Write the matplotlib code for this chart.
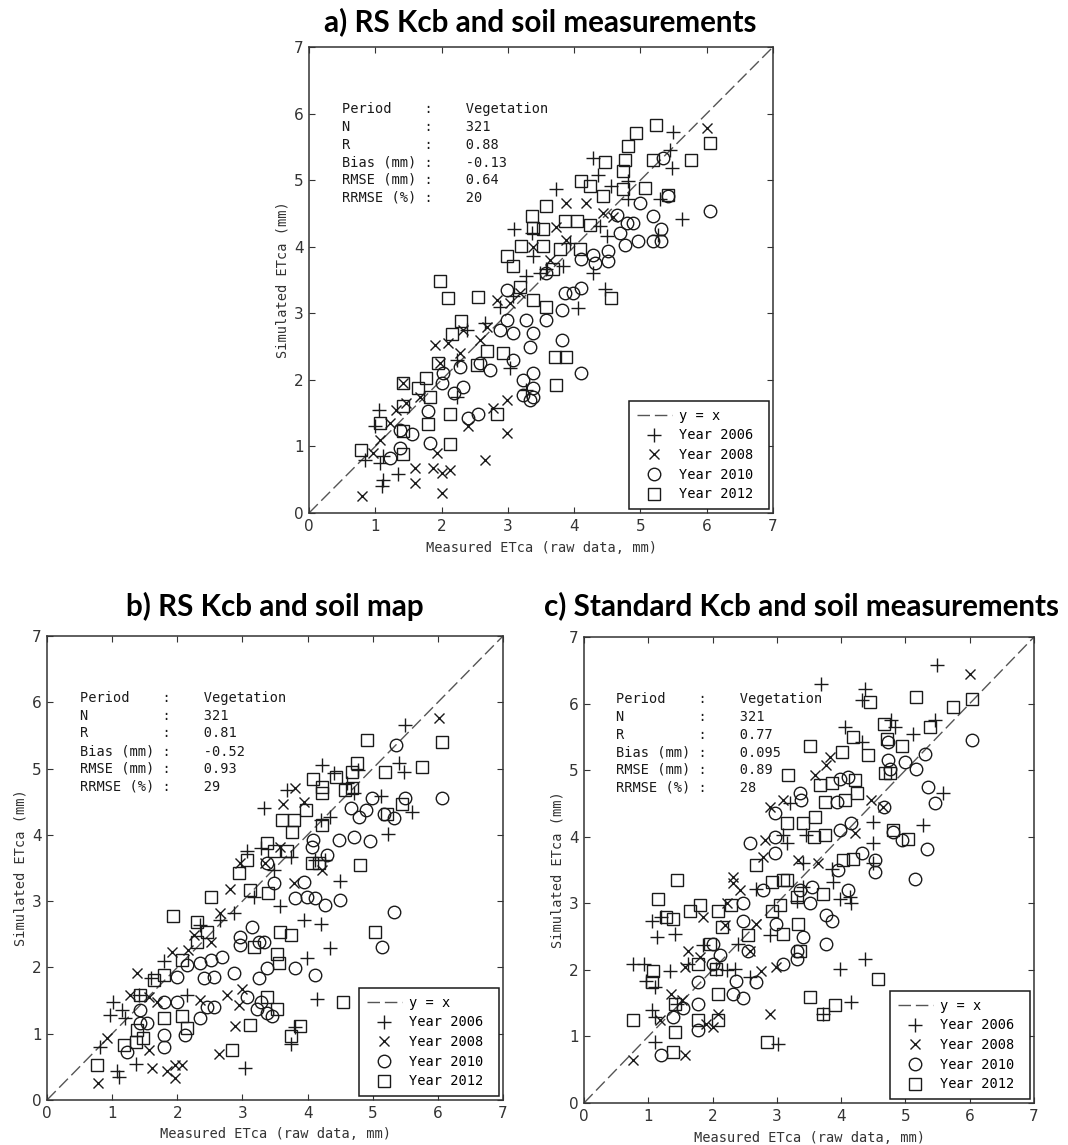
import numpy as np
import matplotlib
matplotlib.use("Agg")
import matplotlib.pyplot as plt

# ---- data (measured, simulated ETca in mm) ----
years = ["Year 2006", "Year 2008", "Year 2010", "Year 2012"]
markers = ["+", "x", "o", "s"]
msizes = [10, 7, 9, 8]

titles = ["a) RS Kcb and soil measurements",
          "b) RS Kcb and soil map",
          "c) Standard Kcb and soil measurements"]

stat_names = ["Period", "N", "R", "Bias (mm)", "RMSE (mm)", "RRMSE (%)"]
stats_a = ["Vegetation", "321", "0.88", "-0.13", "0.64", "20"]
stats_b = ["Vegetation", "321", "0.81", "-0.52", "0.93", "29"]
stats_c = ["Vegetation", "321", "0.77", "0.095", "0.89", "28"]

# panel a
a06_x = [5.49, 5.44, 5.47, 5.62, 5.29, 5.27, 4.29, 4.36, 4.56, 4.81, 4.81, 3.73, 3.10, 3.36, 4.46, 4.29, 4.06,
         4.39, 4.49, 3.83, 3.93, 3.38, 3.48, 3.58, 3.28, 3.08, 3.03, 3.28, 2.88, 2.65, 2.38, 2.23, 2.23, 1.05,
         1.00, 1.07, 1.12, 1.35, 0.84, 1.10, 1.12]
a06_y = [5.73, 5.46, 5.18, 4.41, 4.71, 4.18, 5.33, 5.08, 4.91, 4.98, 4.71, 4.86, 4.26, 4.21, 3.36, 3.61, 3.08,
         4.31, 4.16, 3.71, 4.06, 3.86, 3.61, 3.66, 3.56, 3.26, 2.18, 1.85, 3.10, 2.85, 2.75, 2.30, 1.75, 1.55,
         1.30, 0.75, 0.50, 0.58, 0.80, 0.40, 0.85]
a08_x = [6.00, 0.80, 2.00, 1.93, 1.87, 2.13, 2.00, 1.60, 1.60, 2.65, 2.98, 2.98, 2.78, 2.40, 1.90, 2.10, 1.97,
         2.33, 2.58, 2.83, 3.03, 3.88, 4.18, 4.43, 4.59, 3.88, 3.63, 3.38, 1.42, 1.47, 1.22, 0.97, 1.07, 1.67,
         2.28, 2.68, 1.32, 3.18, 3.73]
a08_y = [5.78, 0.25, 0.30, 0.90, 0.68, 0.65, 0.60, 0.68, 0.45, 0.80, 1.20, 1.70, 1.58, 1.30, 2.53, 2.55, 2.25,
         2.75, 2.60, 3.20, 3.15, 4.65, 4.65, 4.50, 4.45, 4.10, 3.80, 4.00, 1.95, 1.65, 1.35, 0.90, 1.10, 1.75,
         2.40, 2.80, 1.55, 3.30, 4.30]
a10_x = [6.05, 5.42, 5.34, 5.31, 5.19, 5.31, 5.19, 4.96, 4.99, 4.89, 4.77, 4.69, 4.79, 4.64, 4.51, 4.51, 4.29,
         4.31, 4.11, 4.11, 3.98, 3.86, 3.81, 3.81, 4.11, 3.38, 3.38, 3.33, 3.38, 3.23, 3.23, 3.08, 3.08, 3.33,
         3.38, 3.28, 2.98, 2.98, 3.58, 2.73, 2.58, 2.33, 2.28, 2.18, 2.00, 2.02, 2.55, 2.40, 1.82, 1.79, 1.55,
         1.37, 1.22, 1.37, 3.58, 2.88]
a10_y = [4.53, 4.76, 5.33, 4.08, 4.08, 4.26, 4.46, 4.08, 4.66, 4.36, 4.03, 4.21, 4.36, 4.48, 3.78, 3.93, 3.88,
         3.76, 3.81, 3.38, 3.30, 3.30, 3.05, 2.60, 2.10, 1.88, 1.75, 1.70, 2.10, 2.00, 1.78, 2.30, 2.70, 2.50,
         2.70, 2.90, 2.90, 3.35, 2.90, 2.15, 2.25, 1.90, 2.20, 1.80, 1.95, 2.10, 1.48, 1.43, 1.05, 1.53, 1.18,
         0.98, 0.83, 1.25, 3.60, 2.75]
a12_x = [5.24, 4.94, 4.82, 4.76, 4.46, 4.11, 4.24, 4.44, 4.74, 4.74, 5.07, 5.19, 5.77, 6.05, 5.42, 3.58, 3.36,
         3.38, 3.53, 3.20, 3.53, 3.78, 4.09, 4.04, 3.86, 4.24, 2.98, 3.08, 3.68, 3.38, 3.18, 3.58, 4.56, 3.71,
         3.88, 3.73, 1.97, 2.10, 2.55, 2.30, 2.15, 2.68, 2.53, 1.95, 1.77, 1.65, 1.82, 1.42, 1.42, 1.79, 2.13,
         2.13, 2.83, 1.42, 1.42, 0.79, 1.07, 2.93]
a12_y = [5.83, 5.71, 5.51, 5.31, 5.28, 4.98, 4.91, 4.76, 4.86, 5.13, 4.88, 5.31, 5.31, 5.56, 4.78, 4.61, 4.46,
         4.28, 4.26, 4.01, 4.01, 3.96, 3.96, 4.38, 4.38, 4.33, 3.86, 3.71, 3.66, 3.20, 3.40, 3.10, 3.23, 2.35,
         2.35, 1.93, 3.48, 3.23, 3.25, 2.88, 2.69, 2.43, 2.23, 2.25, 2.03, 1.88, 1.75, 1.95, 1.60, 1.33, 1.48,
         1.03, 1.48, 1.23, 0.88, 0.95, 1.35, 2.40]

# panel b
b06_x = [5.50, 5.40, 5.48, 5.12, 5.24, 5.60, 4.22, 4.40, 4.60, 4.78, 4.71, 3.68, 3.33, 3.07, 3.28, 3.48, 3.74,
         4.12, 4.27, 4.35, 4.20, 4.50, 3.94, 4.20, 4.35, 3.99, 4.15, 3.74, 3.04, 3.81, 2.87, 2.66, 2.35, 2.15,
         1.79, 1.59, 1.02, 0.97, 1.15, 1.20, 0.82, 1.36, 1.07, 1.10, 1.41, 3.58, 3.17]
b06_y = [5.66, 5.08, 4.95, 4.58, 4.02, 4.35, 5.05, 4.93, 4.78, 4.98, 4.63, 4.68, 4.40, 3.75, 3.80, 3.47, 3.67,
         3.62, 3.62, 4.27, 4.22, 3.30, 2.72, 2.66, 2.29, 2.14, 1.53, 0.85, 0.48, 1.10, 2.82, 2.72, 2.64, 1.58,
         2.09, 1.84, 1.48, 1.28, 1.36, 1.23, 0.80, 0.55, 0.43, 0.35, 1.58, 2.92, 3.07]
b08_x = [6.01, 3.81, 3.63, 3.94, 4.22, 3.79, 2.81, 2.97, 2.66, 1.92, 2.25, 2.17, 1.38, 1.56, 1.69, 0.92, 0.79,
         1.56, 1.61, 1.84, 1.97, 1.97, 2.07, 2.64, 2.89, 2.99, 2.94, 2.76, 2.35, 1.28, 2.51, 3.35, 3.58]
b08_y = [5.76, 4.71, 4.47, 4.50, 3.47, 3.27, 3.19, 3.57, 2.82, 2.24, 2.49, 2.26, 1.91, 1.56, 1.48, 0.93, 0.25,
         0.75, 0.48, 0.43, 0.33, 0.53, 0.53, 0.70, 1.11, 1.68, 1.43, 1.58, 1.51, 1.58, 2.39, 3.57, 3.82]
b10_x = [6.06, 5.35, 5.50, 5.32, 5.17, 4.99, 4.96, 4.89, 4.79, 4.71, 4.66, 4.48, 4.50, 5.32, 5.14, 4.30, 4.27,
         4.12, 4.12, 4.09, 4.07, 3.94, 3.99, 3.81, 3.81, 3.38, 3.25, 3.07, 3.22, 3.38, 3.45, 3.28, 3.25, 2.97,
         2.97, 3.15, 3.33, 3.38, 3.48, 2.87, 2.69, 2.51, 2.56, 2.41, 2.35, 2.15, 2.00, 2.00, 1.79, 1.79, 1.79,
         1.43, 1.54, 1.43, 1.23, 2.35, 2.46, 2.56, 2.12]
b10_y = [4.55, 5.35, 4.55, 4.25, 4.32, 4.55, 3.90, 4.37, 4.27, 3.97, 4.40, 3.92, 3.02, 2.84, 2.31, 3.70, 2.94,
         3.04, 1.89, 3.92, 3.82, 3.29, 3.07, 3.04, 1.99, 1.99, 1.84, 1.56, 1.38, 1.31, 1.26, 1.48, 2.39, 2.34,
         2.46, 2.61, 2.39, 3.57, 3.27, 1.91, 2.16, 2.11, 1.86, 1.84, 2.06, 2.04, 1.86, 1.48, 1.48, 0.98, 0.80,
         1.16, 1.16, 1.36, 0.73, 1.23, 1.41, 1.41, 0.98]
b12_x = [4.91, 6.06, 5.76, 5.19, 5.45, 5.22, 4.76, 4.68, 4.43, 4.09, 4.22, 4.22, 4.58, 4.68, 3.97, 3.79, 3.61,
         3.76, 4.22, 4.07, 4.17, 4.81, 3.68, 3.38, 3.48, 2.94, 3.07, 3.12, 3.40, 3.58, 3.74, 3.17, 3.53, 3.56,
         3.38, 3.53, 3.12, 3.74, 3.89, 4.55, 5.04, 2.84, 2.51, 1.94, 2.30, 2.46, 2.30, 2.07, 1.64, 1.79, 2.07,
         2.15, 1.79, 1.43, 1.38, 1.36, 1.48, 1.18, 0.77]
b12_y = [5.43, 5.40, 5.03, 4.95, 4.47, 4.32, 5.08, 4.95, 4.88, 4.85, 4.72, 4.63, 4.68, 4.70, 4.37, 4.22, 4.22,
         4.05, 4.15, 3.57, 3.57, 3.55, 3.75, 3.87, 3.75, 3.42, 3.62, 3.17, 3.12, 2.54, 2.49, 2.31, 2.21, 2.06,
         1.56, 1.38, 1.13, 0.96, 1.11, 1.48, 2.54, 0.75, 3.07, 2.77, 2.69, 2.54, 2.39, 2.11, 1.81, 1.89, 1.26,
         1.08, 1.23, 1.58, 1.06, 0.88, 0.93, 0.83, 0.53]

# panel c
c06_x = [5.49, 3.69, 4.37, 4.32, 4.06, 4.78, 4.84, 5.12, 5.46, 4.32, 5.59, 5.28, 4.50, 4.50, 4.50, 3.85, 3.88,
         3.98, 4.16, 4.13, 4.37, 3.98, 4.16, 3.72, 3.02, 3.41, 3.41, 3.31, 3.46, 3.10, 3.20, 3.15, 2.68, 2.89,
         2.40, 2.35, 2.22, 2.06, 2.58, 1.85, 1.62, 0.94, 0.76, 0.97, 1.10, 1.05, 1.13, 1.41, 1.20, 1.33, 1.05,
         1.10, 1.10, 1.44]
c06_y = [6.58, 6.30, 6.22, 6.05, 5.65, 5.75, 5.65, 5.55, 5.75, 5.42, 4.65, 4.17, 4.22, 3.90, 3.60, 3.52, 3.32,
         3.07, 3.00, 3.10, 2.17, 2.02, 1.52, 1.34, 0.89, 3.60, 3.25, 3.04, 4.02, 4.02, 4.50, 3.90, 3.22, 2.52,
         2.39, 2.02, 2.00, 2.02, 1.89, 2.37, 2.09, 2.09, 2.09, 1.84, 1.74, 2.74, 2.49, 2.54, 2.79, 1.99, 1.39,
         1.29, 0.92, 1.49]
c08_x = [6.00, 3.82, 3.77, 3.59, 4.47, 4.21, 2.89, 3.10, 2.81, 2.79, 3.33, 3.64, 2.32, 2.32, 2.42, 2.22, 2.68,
         2.76, 2.99, 1.85, 1.62, 1.57, 1.80, 2.19, 1.52, 1.36, 1.57, 0.76, 1.18, 2.01, 2.09, 2.89, 1.90, 4.65,
         2.58]
c08_y = [6.45, 5.20, 5.07, 4.92, 4.55, 4.05, 4.45, 4.55, 3.95, 3.70, 3.65, 3.60, 3.40, 3.30, 3.20, 3.00, 2.69,
         1.99, 2.04, 2.79, 2.29, 2.04, 2.19, 2.67, 1.54, 1.64, 0.72, 0.64, 1.24, 1.14, 1.34, 1.34, 1.19, 4.45,
         2.29]
c10_x = [6.03, 5.30, 5.17, 5.35, 5.46, 5.33, 5.15, 4.99, 4.94, 4.81, 4.73, 4.73, 4.76, 4.66, 4.53, 4.53, 4.32,
         4.11, 3.98, 3.93, 3.98, 4.16, 3.95, 4.11, 3.77, 3.85, 3.77, 3.36, 3.54, 3.51, 3.41, 3.31, 3.31, 3.10,
         2.99, 2.79, 2.97, 2.97, 2.97, 3.36, 3.38, 2.58, 2.48, 2.48, 2.55, 2.68, 2.48, 2.32, 2.37, 2.11, 2.01,
         2.01, 1.77, 1.77, 1.77, 1.39, 1.20, 1.54]
c10_y = [5.45, 5.25, 5.02, 4.75, 4.50, 3.82, 3.37, 5.12, 3.95, 4.07, 5.42, 5.15, 5.02, 4.45, 3.65, 3.47, 3.75,
         4.90, 4.87, 4.52, 4.10, 4.20, 3.50, 3.20, 2.82, 2.74, 2.39, 3.20, 3.25, 3.00, 2.49, 2.29, 2.17, 2.09,
         2.69, 3.20, 3.75, 4.00, 4.35, 4.65, 4.55, 3.90, 3.00, 2.74, 2.29, 1.82, 1.57, 1.64, 1.84, 2.22, 2.39,
         2.09, 1.82, 1.49, 1.09, 1.29, 0.72, 1.42]
c12_x = [6.03, 5.74, 5.17, 4.45, 5.38, 4.66, 4.71, 4.94, 4.19, 4.42, 4.01, 3.51, 3.18, 3.67, 3.85, 3.75, 4.06,
         4.21, 4.24, 4.68, 4.76, 4.81, 5.04, 4.03, 4.19, 3.59, 3.57, 3.75, 3.15, 3.41, 2.68, 3.10, 2.92, 3.15,
         3.72, 3.31, 3.33, 3.36, 3.05, 3.10, 2.92, 3.51, 4.58, 3.90, 3.72, 2.84, 2.29, 2.09, 1.80, 1.65, 2.55,
         2.14, 1.44, 1.15, 1.28, 1.39, 1.96, 1.77, 2.06, 1.07, 1.05, 2.09, 2.09, 1.77, 1.41, 1.39, 0.76, 1.41]
c12_y = [6.07, 5.95, 6.10, 6.02, 5.65, 5.70, 5.47, 5.37, 5.50, 5.22, 5.27, 5.37, 4.92, 4.77, 4.80, 4.52, 4.55,
         4.85, 4.65, 4.95, 4.95, 4.10, 3.97, 3.65, 3.67, 4.30, 4.00, 4.02, 4.20, 4.20, 3.57, 3.35, 3.32, 3.35,
         3.14, 3.09, 2.69, 2.29, 2.97, 2.54, 2.89, 1.59, 1.87, 1.47, 1.34, 0.92, 2.97, 2.89, 2.97, 2.89, 2.52,
         2.64, 3.35, 3.07, 2.79, 2.77, 2.39, 2.09, 2.02, 1.99, 1.82, 1.64, 1.24, 1.24, 1.07, 0.77, 1.24, 1.49]

panels = [
    (titles[0], stats_a, [(a06_x, a06_y), (a08_x, a08_y), (a10_x, a10_y), (a12_x, a12_y)]),
    (titles[1], stats_b, [(b06_x, b06_y), (b08_x, b08_y), (b10_x, b10_y), (b12_x, b12_y)]),
    (titles[2], stats_c, [(c06_x, c06_y), (c08_x, c08_y), (c10_x, c10_y), (c12_x, c12_y)]),
]

# axes boxes in figure fraction (from pixel positions of the original)
W, H = 1068, 1145
boxes = [(309, 47, 773, 513), (47, 636, 503, 1100), (584, 637, 1034, 1103)]
title_pos = [(540, 22), (275, 606), (801, 606)]

mono = "DejaVu Sans Mono"
ink = "#1a1a1a"
grey = "#333333"

fig = plt.figure(figsize=(W / 100, H / 100), dpi=100)

for (title, stats, series), (x0, y0, x1, y1), (tx, ty) in zip(panels, boxes, title_pos):
    ax = fig.add_axes([x0 / W, 1 - y1 / H, (x1 - x0) / W, (y1 - y0) / H])
    ax.plot([0, 7], [0, 7], color="#555555", lw=1.0, linestyle=(0, (9, 3.5)), label="y = x")
    for (xs, ys), lab, m, ms in zip(series, years, markers, msizes):
        ax.plot(xs, ys, linestyle="none", marker=m, ms=ms, mfc="none", mec=ink, mew=1.0,
                label=lab + " ")
    ax.set_xlim(0, 7)
    ax.set_ylim(0, 7)
    ax.set_xticks(range(8))
    ax.set_yticks(range(8))
    ax.tick_params(direction="in", top=True, right=True, length=4, width=0.8, colors=grey,
                   labelsize=11, pad=4)
    for s in ax.spines.values():
        s.set_color(grey)
        s.set_linewidth(1.1)
    ax.set_xlabel("Measured ETca (raw data, mm)", family=mono, fontsize=9.8, color=grey, labelpad=5)
    ax.set_ylabel("Simulated ETca (mm)", family=mono, fontsize=9.8, color=grey, labelpad=3)

    lines = ["%-10s:    %s" % (n, v) for n, v in zip(stat_names, stats)]
    ax.text(0.072, 0.881, "\n".join(lines), transform=ax.transAxes, family=mono, fontsize=9.8,
            color=ink, va="top", ha="left", linespacing=1.33)

    leg = ax.legend(loc="lower right", prop={"family": mono, "size": 9.8}, fancybox=False,
                    borderaxespad=0.3, handlelength=2.6, handletextpad=0.5, labelspacing=0.42,
                    borderpad=0.55, framealpha=1)
    leg.get_frame().set_edgecolor(ink)
    leg.get_frame().set_linewidth(1.1)

    fig.text(tx / W, 1 - ty / H, title, ha="center", va="center", family="Lato",
             fontweight="bold", fontsize=21.3)

fig.savefig("out.png", dpi=100)
